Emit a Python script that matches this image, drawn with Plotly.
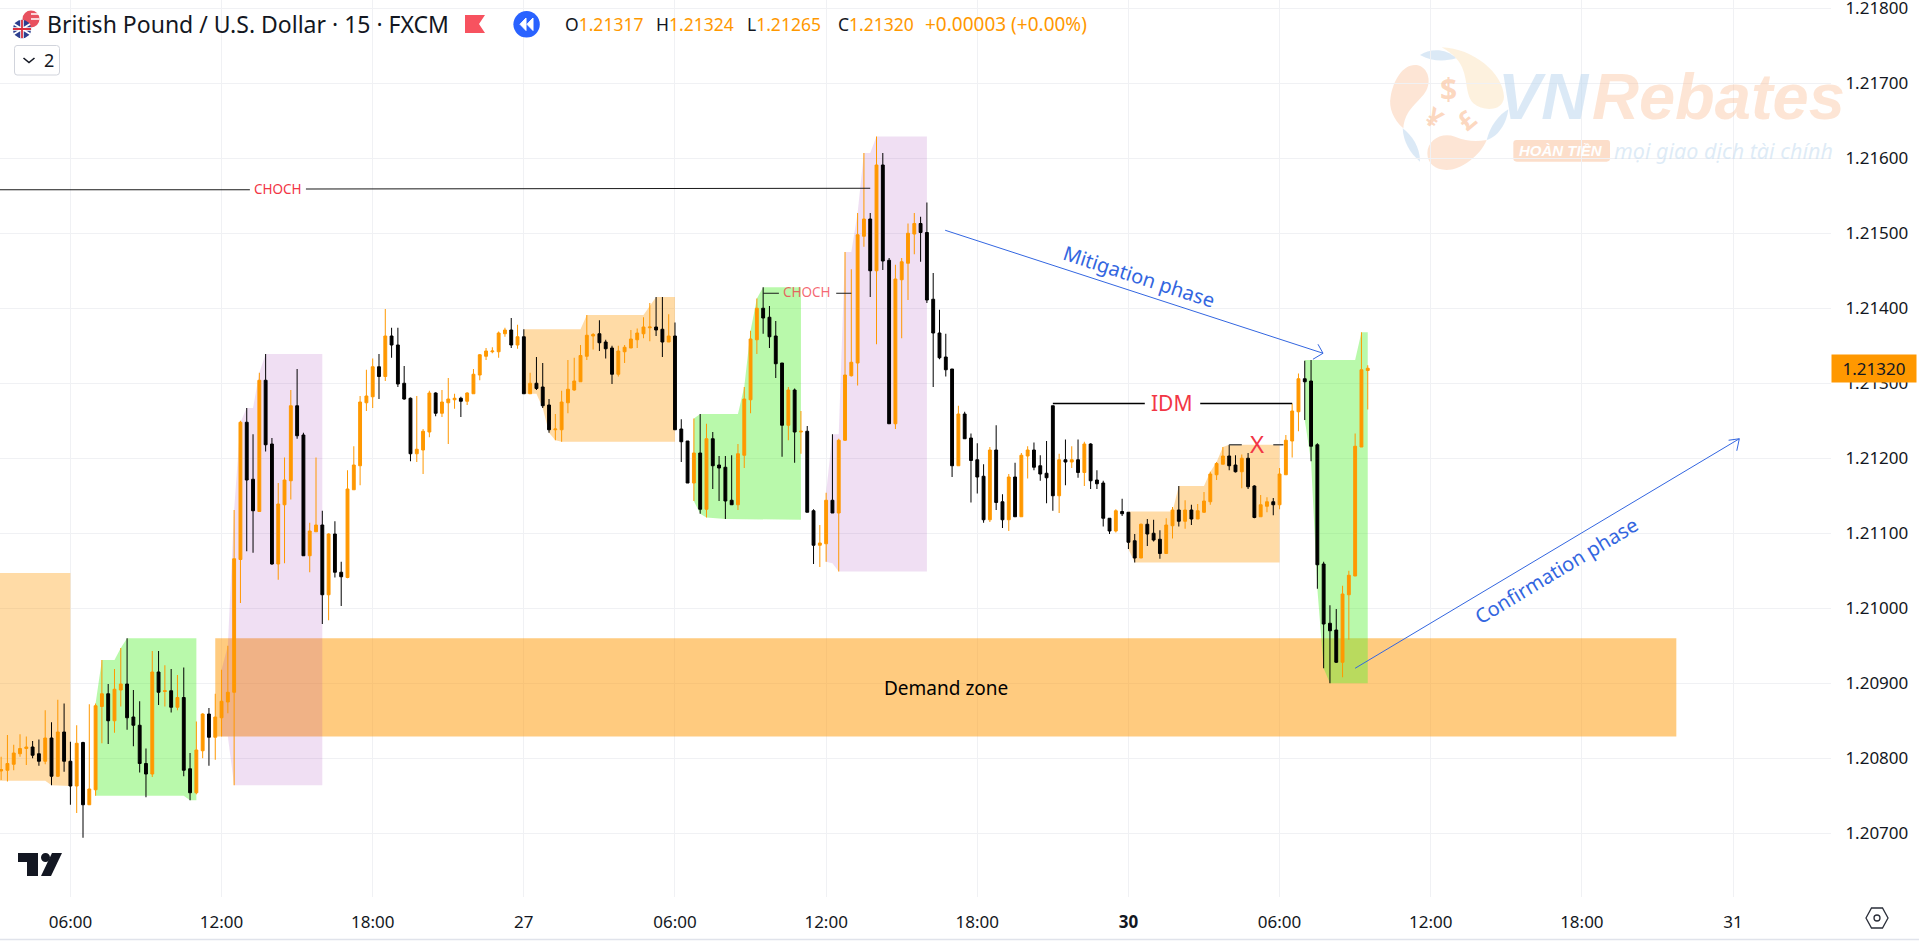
import plotly.graph_objects as go

# GBP/USD 15 min candles, prices in 1/100000
opens = [
    120783, 120784, 120792, 120806, 120813, 120815, 120806, 120796, 120827, 120776,
    120835, 120796, 120763, 120821, 120738, 120758, 120869, 120886, 120850, 120891,
    120899, 120855, 120844, 120793, 120779, 120915, 120889, 120890, 120868, 120881,
    120786, 120754, 120810, 120859, 120828, 120854, 120875, 120888, 121065, 121248,
    121172, 121129, 121304, 121219, 121059, 121138, 121170, 121270, 121231, 121070,
    121102, 121111, 121018, 121099, 121048, 121041, 121158, 121190, 121274, 121282,
    121322, 121309, 121363, 121351, 121300, 121280, 121206, 121211, 121235, 121287,
    121260, 121274, 121278, 121280, 121276, 121286, 121311, 121336, 121342, 121342,
    121366, 121371, 121351, 121362, 121286, 121300, 121295, 121271, 121238, 121238,
    121274, 121291, 121302, 121336, 121363, 121366, 121355, 121347, 121312, 121342,
    121347, 121358, 121366, 121374, 121375, 121372, 121355, 121363, 121239, 121223,
    121167, 121207, 121132, 121226, 121191, 121188, 121144, 121138, 121204, 121278,
    121358, 121400, 121388, 121363, 121327, 121244, 121291, 121235, 121236, 121130,
    121084, 121086, 121144, 121127, 121224, 121310, 121327, 121496, 121519, 121450,
    121591, 121464, 121246, 121438, 121460, 121499, 121513, 121501, 121412, 121367,
    121335, 121319, 121190, 121259, 121227, 121198, 121176, 121118, 121211, 121142,
    121118, 121175, 121122, 121203, 121211, 121190, 121180, 121270, 121150, 121198,
    121195, 121198, 121181, 121219, 121171, 121167, 121120, 121103, 121129, 121128,
    121090, 121067, 121112, 121100, 121092, 121073, 121110, 121131, 121116, 121131,
    121119, 121128, 121142, 121178, 121192, 121203, 121191, 121182, 121200, 121163,
    121122, 121136, 121142, 121138, 121178, 121223, 121262, 121306, 121303, 121218,
    121059, 120980, 120971, 120928, 121018, 121043, 121215, 121317,
]
highs = [
    120802, 120831, 120818, 120832, 120829, 120823, 120825, 120864, 120848, 120878,
    120873, 120822, 120844, 120822, 120872, 120873, 120931, 120899, 120919, 120947,
    120960, 120891, 120876, 120813, 120943, 120943, 120924, 120919, 120911, 120921,
    120807, 120849, 120860, 120867, 120886, 120918, 120950, 121131, 121250, 121267,
    121232, 121314, 121339, 121227, 121167, 121201, 121291, 121319, 121234, 121114,
    121201, 121130, 121100, 121116, 121062, 121184, 121216, 121283, 121318, 121333,
    121339, 121399, 121374, 121374, 121323, 121281, 121283, 121239, 121290, 121288,
    121291, 121307, 121286, 121282, 121288, 121319, 121339, 121347, 121348, 121369,
    121374, 121387, 121378, 121372, 121314, 121335, 121327, 121279, 121259, 121290,
    121331, 121334, 121351, 121391, 121367, 121384, 121358, 121350, 121350, 121351,
    121371, 121373, 121388, 121407, 121415, 121415, 121392, 121381, 121252, 121223,
    121253, 121259, 121246, 121235, 121203, 121203, 121204, 121219, 121295, 121370,
    121413, 121428, 121403, 121383, 121327, 121295, 121293, 121263, 121243, 121132,
    121111, 121154, 121232, 121226, 121475, 121452, 121527, 121607, 121527, 121629,
    121607, 121467, 121458, 121467, 121513, 121527, 121522, 121541, 121447, 121398,
    121366, 121319, 121270, 121262, 121233, 121220, 121192, 121215, 121244, 121152,
    121179, 121194, 121207, 121216, 121221, 121204, 121223, 121270, 121206, 121225,
    121216, 121225, 121222, 121220, 121184, 121170, 121120, 121132, 121146, 121128,
    121099, 121113, 121119, 121118, 121104, 121120, 121135, 121163, 121144, 121138,
    121139, 121155, 121182, 121195, 121215, 121218, 121204, 121205, 121207, 121164,
    121151, 121148, 121147, 121187, 121231, 121273, 121313, 121330, 121331, 121220,
    121062, 121004, 120999, 121030, 121050, 121233, 121368, 121324,
]
lows = [
    120771, 120769, 120784, 120802, 120791, 120800, 120790, 120792, 120764, 120775,
    120782, 120738, 120727, 120694, 120738, 120750, 120820, 120819, 120834, 120869,
    120838, 120816, 120781, 120748, 120775, 120871, 120869, 120861, 120864, 120776,
    120744, 120752, 120800, 120790, 120798, 120829, 120860, 120764, 121007, 121076,
    121074, 121129, 121209, 121058, 121038, 121060, 121145, 121226, 121070, 121048,
    121102, 120979, 120984, 121041, 121003, 121040, 121158, 121164, 121263, 121267,
    121279, 121303, 121334, 121295, 121278, 121196, 121195, 121179, 121228, 121256,
    121255, 121219, 121266, 121255, 121271, 121286, 121304, 121331, 121340, 121334,
    121362, 121347, 121346, 121286, 121286, 121291, 121267, 121234, 121224, 121222,
    121260, 121290, 121302, 121331, 121345, 121343, 121333, 121299, 121309, 121327,
    121347, 121347, 121360, 121356, 121363, 121335, 121355, 121238, 121195, 121167,
    121143, 121126, 121121, 121159, 121143, 121119, 121138, 121131, 121187, 121260,
    121339, 121366, 121347, 121307, 121202, 121224, 121194, 121206, 121128, 121059,
    121055, 121062, 121127, 121049, 121223, 121309, 121297, 121482, 121415, 121352,
    121451, 121246, 121239, 121360, 121411, 121472, 121462, 121407, 121295, 121332,
    121309, 121175, 121190, 121226, 121141, 121153, 121114, 121115, 121131, 121107,
    121103, 121122, 121122, 121173, 121184, 121170, 121140, 121130, 121127, 121164,
    121187, 121174, 121163, 121159, 121159, 121109, 121099, 121101, 121123, 121079,
    121061, 121067, 121083, 121089, 121066, 121073, 121093, 121109, 121106, 121111,
    121119, 121127, 121138, 121171, 121192, 121184, 121181, 121160, 121159, 121120,
    121122, 121128, 121124, 121132, 121178, 121201, 121236, 121251, 121196, 121026,
    120920, 120900, 120927, 120908, 120958, 121043, 121215, 121265,
]
closes = [
    120785, 120793, 120807, 120813, 120815, 120804, 120796, 120827, 120776, 120835,
    120796, 120763, 120820, 120738, 120759, 120870, 120886, 120850, 120892, 120899,
    120854, 120844, 120793, 120779, 120915, 120888, 120890, 120868, 120881, 120784,
    120754, 120811, 120859, 120828, 120855, 120876, 120888, 121066, 121248, 121171,
    121130, 121304, 121218, 121059, 121139, 121171, 121270, 121230, 121070, 121103,
    121111, 121018, 121099, 121048, 121042, 121159, 121191, 121275, 121283, 121322,
    121309, 121363, 121351, 121299, 121279, 121206, 121212, 121236, 121287, 121260,
    121275, 121279, 121280, 121276, 121287, 121312, 121338, 121343, 121343, 121367,
    121371, 121351, 121362, 121286, 121300, 121293, 121270, 121238, 121239, 121275,
    121292, 121303, 121337, 121364, 121365, 121354, 121346, 121312, 121343, 121348,
    121359, 121367, 121375, 121375, 121371, 121355, 121363, 121238, 121222, 121167,
    121207, 121132, 121226, 121190, 121187, 121143, 121138, 121206, 121279, 121359,
    121400, 121387, 121362, 121326, 121244, 121291, 121235, 121236, 121128, 121084,
    121087, 121144, 121127, 121224, 121311, 121328, 121498, 121519, 121450, 121591,
    121463, 121246, 121439, 121462, 121500, 121513, 121501, 121411, 121367, 121334,
    121318, 121190, 121259, 121226, 121197, 121175, 121118, 121211, 121141, 121118,
    121175, 121122, 121204, 121211, 121188, 121179, 121174, 121150, 121198, 121195,
    121198, 121181, 121219, 121170, 121166, 121120, 121103, 121130, 121126, 121088,
    121067, 121112, 121099, 121091, 121073, 121111, 121131, 121116, 121131, 121119,
    121130, 121143, 121179, 121193, 121203, 121190, 121182, 121200, 121162, 121121,
    121138, 121142, 121138, 121179, 121224, 121263, 121306, 121302, 121216, 121058,
    120979, 120970, 120928, 121019, 121044, 121216, 121318, 121320,
]

# x axis labels sit on every 24th bar
tick_bars = [11, 35, 59, 83, 107, 131, 155, 179, 203, 227, 251, 275]
tick_names = ["06:00", "12:00", "18:00", "27", "06:00", "12:00", "18:00", "<b>30</b>",
              "06:00", "12:00", "18:00", "31"]
price_ticks = [120700, 120800, 120900, 121000, 121100, 121200, 121300, 121400, 121500, 121600, 121700, 121800]
last_price = "1.21320"

# shaded ranges: outline as bar index / price
demand_x = [34, 266, 266, 34]
demand_y = [120960, 120960, 120829, 120829]
peach_zones = [
    ([-2, 11, 11, 8, 7, -2],
     [121047, 121047, 120763, 120764, 120770, 120770]),
    ([83, 92, 93, 102, 104, 107, 107, 89, 88, 87, 86, 85, 83],
     [121372, 121372, 121391, 121391, 121415, 121415, 121222, 121222, 121224, 121234, 121267, 121286, 121286]),
    ([179, 186, 187, 191, 192, 193, 194, 195, 203, 203, 180, 179],
     [121129, 121129, 121163, 121163, 121182, 121195, 121215, 121218, 121218, 121061, 121061, 121079]),
]
green_zones = [
    ([15, 16, 18, 19, 20, 31, 31, 30, 29, 15],
     [120873, 120931, 120931, 120947, 120960, 120960, 120744, 120744, 120750, 120750]),
    ([110, 111, 117, 118, 119, 120, 121, 127, 127, 115, 112, 111, 110],
     [121253, 121259, 121259, 121295, 121370, 121413, 121428, 121428, 121118, 121119, 121121, 121126, 121143]),
    ([207, 215, 216, 217, 217, 211, 210, 209, 208, 207],
     [121331, 121331, 121368, 121368, 120900, 120900, 120920, 121026, 121196, 121251]),
]
purple_zones = [
    ([35, 36, 37, 38, 39, 40, 41, 42, 51, 51, 37, 36, 35],
     [120918, 120950, 121131, 121248, 121267, 121267, 121314, 121339, 121339, 120764, 120764, 120829, 120829]),
    ([131, 132, 133, 134, 135, 136, 137, 138, 139, 147, 147, 133, 132, 131],
     [121154, 121232, 121232, 121475, 121475, 121527, 121607, 121607, 121629, 121629, 121049, 121049, 121060, 121062]),
]

# drawn lines on the chart
choch_top_x = [-2, 39.5, None, 48.4, 138]
choch_top_y = [121558, 121558, None, 121559, 121560]
choch_mid_x = [121, 123.5, None, 132.6, 135]
choch_mid_y = [121420, 121420, None, 121420, 121420]
idm_x = [167, 181.6, None, 190.4, 205]
idm_y = [121273, 121273, None, 121273, 121273]
x_line_x = [195, 197, None, 202, 203.6]
x_line_y = [121218, 121218, None, 121218, 121218]
mitigation_x = [149.9, 209.9, None, 209.1, 209.9, 208.3]
mitigation_y = [121504, 121340, None, 121352, 121340, 121332]
confirm_x = [215, 276, None, 274.3, 276, 275.6]
confirm_y = [120920, 121226, None, 121224, 121226, 121210]

ohlc_labels = ["O", "H", "L", "C", ""]
ohlc_values = ["1.21317", "1.21324", "1.21265", "1.21320", "+0.00003 (+0.00%)"]
ohlc_left = [564, 655, 746, 837, 924]
ohlc_sizes = [17.5, 17.5, 17.5, 17.5, 19]

ORANGE = "#FF9800"
DARK = "#131722"
BLUE = "#3366E0"
RED = "#F23645"
FONT = "Noto Sans"
PLOT_W = 1831
PLOT_H = 897


def px(x):
    return x / PLOT_W


def py(y):
    return 1 - y / PLOT_H


def paper_path(path):
    # pixel path -> paper path, numbers come in x y pairs
    out = []
    is_x = True
    for tok in path.split():
        if tok.isalpha():
            out.append(tok)
        else:
            out.append(str(px(float(tok))) if is_x else str(py(float(tok))))
            is_x = not is_x
    return " ".join(out)


def wm_path(path):
    # watermark outlines were traced on a 3x crop starting at (1370, 40)
    out = []
    is_x = True
    for tok in path.split():
        if tok.isalpha():
            out.append(tok)
        else:
            out.append(str(1370 + float(tok) / 3 if is_x else 40 + float(tok) / 3))
            is_x = not is_x
    return " ".join(out)


def zone_shape(xs, ys, color):
    pts = [f"{x},{y / 100000}" for x, y in zip(xs, ys)]
    return dict(type="path", path="M " + " L ".join(pts) + " Z", xref="x", yref="y",
                fillcolor=color, line=dict(width=0), layer="between")


def deco(path, fill="rgba(0,0,0,0)", line_color=None, width=0, layer="above"):
    return dict(type="path", path=paper_path(path), xref="paper", yref="paper", fillcolor=fill,
                line=dict(width=width, color=line_color or "rgba(0,0,0,0)"), layer=layer)


def circle(cx, cy, r, fill, line_color=None, width=0):
    return dict(type="circle", xref="paper", yref="paper", x0=px(cx - r), x1=px(cx + r),
                y0=py(cy + r), y1=py(cy - r), fillcolor=fill,
                line=dict(width=width, color=line_color or "rgba(0,0,0,0)"))


def note(x, y, text, size=14, color=DARK, anchor="left", angle=0, family=FONT, paper=True):
    return dict(x=px(x) if paper else x, y=py(y) if paper else y, xref="paper" if paper else "x",
                yref="paper" if paper else "y", text=text, showarrow=False, xanchor=anchor, yanchor="middle",
                textangle=angle, font=dict(size=size, color=color, family=family), borderpad=0)


def line_trace(xs, ys, color, width=1):
    return go.Scatter(x=xs, y=[None if v is None else v / 100000 for v in ys], mode="lines",
                      line=dict(color=color, width=width), hoverinfo="skip", showlegend=False)


fig = go.Figure()
fig.add_trace(
    go.Candlestick(
        x=list(range(len(opens))),
        open=[v / 100000 for v in opens],
        high=[v / 100000 for v in highs],
        low=[v / 100000 for v in lows],
        close=[v / 100000 for v in closes],
        increasing=dict(line=dict(color=ORANGE, width=1), fillcolor=ORANGE),
        decreasing=dict(line=dict(color="#000000", width=1), fillcolor="#000000"),
        whiskerwidth=0,
        hoverinfo="skip",
        showlegend=False,
    )
)
fig.add_trace(line_trace(choch_top_x, choch_top_y, "#1a1a1a"))
fig.add_trace(line_trace(choch_mid_x, choch_mid_y, "#1a1a1a"))
fig.add_trace(line_trace(idm_x, idm_y, "#000000", 1.5))
fig.add_trace(line_trace(x_line_x, x_line_y, "#555555", 1.5))
fig.add_trace(line_trace(mitigation_x, mitigation_y, BLUE))
fig.add_trace(line_trace(confirm_x, confirm_y, BLUE))

# zones
shapes = [zone_shape(demand_x, demand_y, "rgba(255,152,0,0.5)")]
for xs, ys in peach_zones:
    shapes.append(zone_shape(xs, ys, "rgba(255,152,0,0.35)"))
for xs, ys in green_zones:
    shapes.append(zone_shape(xs, ys, "rgba(80,240,45,0.4)"))
for xs, ys in purple_zones:
    shapes.append(zone_shape(xs, ys, "rgba(156,39,176,0.15)"))

# watermark logo
WM_BLUE = "rgba(190,215,238,0.55)"
WM_PEACH = "rgba(250,190,150,0.4)"
WM_YELLOW = "rgba(250,215,160,0.35)"
for p, c in [
    ("M 140 75 C 175 80 190 130 160 165 C 130 200 105 215 100 265 C 70 240 55 200 62 170 C 70 120 100 70 140 75 Z", WM_PEACH),
    ("M 150 45 C 180 25 230 25 258 55 C 225 65 185 65 150 45 Z", WM_BLUE),
    ("M 215 22 C 310 25 400 100 402 170 C 400 215 340 215 310 190 C 280 160 300 100 258 55 C 245 40 230 30 215 22 Z", WM_YELLOW),
    ("M 415 208 C 410 250 385 290 350 300 C 360 260 385 225 415 208 Z", WM_BLUE),
    ("M 172 340 C 172 300 215 275 255 290 C 290 305 320 305 350 300 C 330 350 270 390 230 390 C 195 390 172 370 172 340 Z", WM_PEACH),
    ("M 98 265 C 125 285 150 320 150 365 C 120 340 100 305 98 265 Z", WM_BLUE),
    ("M 440 300 L 712 300 Q 720 300 720 310 L 720 355 Q 720 365 710 365 L 440 365 Q 430 365 430 355 L 430 310 Q 430 300 440 300 Z", "rgba(250,190,150,0.5)"),
]:
    shapes.append(deco(wm_path(p), fill=c, layer="between"))

# header icons
shapes += [
    circle(31, 19, 8.5, "#E8515F"),
    deco("M 23 19 A 8.5 8.5 0 0 1 31 10.5 L 31 19 Z", fill="#4A6CB5"),
    deco("M 31 14 L 39.5 14 M 31 19 L 39.5 19", line_color="#FFFFFF", width=1.5),
    circle(22, 29, 9.2, "#2D3F8F"),
    deco("M 14 24 L 30 34 M 14 34 L 30 24", line_color="#FFFFFF", width=2),
    deco("M 22 20 L 22 38 M 13 29 L 31 29", line_color="#FFFFFF", width=3.5),
    deco("M 22 20 L 22 38 M 13 29 L 31 29", line_color="#D9303E", width=1.8),
    deco("M 465 15 L 485 15 L 479 24 L 485 33 L 465 33 Z", fill="#F7525F"),
    circle(526.6, 24.3, 13.2, "#2962FF"),
    deco("M 526 18 L 520 24.3 L 526 30.5 Z M 533 18 L 527 24.3 L 533 30.5 Z", fill="#FFFFFF", line_color="#FFFFFF", width=1),
    deco("M 17 45.5 L 56.5 45.5 Q 59.5 45.5 59.5 48.5 L 59.5 72 Q 59.5 75 56.5 75 L 17 75 Q 14.5 75 14.5 72 L 14.5 48.5 Q 14.5 45.5 17 45.5 Z",
         fill="#FFFFFF", line_color="#D1D4DC", width=1),
    deco("M 23.5 58 L 29 62.5 L 34.5 58", line_color=DARK, width=1.6),
    # TradingView mark
    deco("M 18 853 L 38 853 L 38 876 L 27 876 L 27 862 L 18 862 Z", fill=DARK),
    circle(45.5, 857.5, 4.5, DARK),
    deco("M 52 853 L 62 853 L 51 876 L 41 876 Z", fill=DARK),
    # settings button
    deco("M 1866 918 L 1871.5 908 L 1882.5 908 L 1888 918 L 1882.5 928 L 1871.5 928 Z", line_color="#2A2E39", width=1.3),
    circle(1877, 918, 3, "rgba(0,0,0,0)", "#2A2E39", 1.3),
    # window edge at the bottom
    dict(type="line", xref="paper", yref="paper", x0=0, x1=px(1919), y0=py(939.5), y1=py(939.5),
         line=dict(color="#E0E3EB", width=1.5)),
]

annotations = [
    note(46, 24, "British Pound / U.S. Dollar · 15 · FXCM", size=23),
    note(43, 60.5, "2", size=18),
    # chart labels
    note(44, 121559 / 100000, "CHOCH", size=13.5, color=RED, anchor="center", paper=False),
    note(128, 121422 / 100000, "CHOCH", size=13.5, color="rgba(242,54,69,0.75)", anchor="center", paper=False),
    note(185.9, 121274 / 100000, "IDM", size=21, color=RED, anchor="center", paper=False),
    note(199.4, 121220 / 100000, "X", size=24, color=RED, anchor="center", paper=False),
    note(150, 120894 / 100000, "Demand zone", size=19, color="#000000", anchor="center", paper=False),
    note(180.7, 121442 / 100000, "Mitigation phase", size=20, color=BLUE, anchor="center", angle=18, paper=False),
    note(246.9, 121051 / 100000, "Confirmation phase", size=20, color=BLUE, anchor="center", angle=-31, paper=False),
    # watermark text
    note(1591, 96, "<b><i>VN</i></b>", size=65, color="rgba(190,215,238,0.55)", anchor="right", family="Liberation Sans"),
    note(1591, 96, "<b><i>Rebates</i></b>", size=65, color="rgba(250,190,150,0.4)", family="Liberation Sans"),
    note(1518, 151, "<b><i>HOÀN TIỀN</i></b>", size=15, color="#FFFFFF", family="Liberation Sans"),
    note(1613, 150, "<i>mọi giao dịch tài chính</i>", size=21.5, color="rgba(190,215,238,0.5)"),
    # currency signs in the logo
    note(1448, 88, "<b>$</b>", size=30, color="rgba(250,190,150,0.6)", anchor="center"),
    note(1434, 117, "<b>¥</b>", size=26, color="rgba(250,190,150,0.6)", anchor="center", angle=35),
    note(1466, 120, "<b>£</b>", size=26, color="rgba(250,190,150,0.6)", anchor="center", angle=-40),
]
for name, value, left, fsize in zip(ohlc_labels, ohlc_values, ohlc_left, ohlc_sizes):
    annotations.append(note(left, 24, f"{name}<span style='color:{ORANGE}'>{value}</span>", size=fsize))
annotations.append(
    dict(x=px(1831), y=py(368.3), xref="paper", yref="paper", text=last_price, showarrow=False,
         xanchor="left", yanchor="middle", width=84, height=27, bgcolor=ORANGE, align="center",
         font=dict(size=17, color=DARK, family=FONT), borderpad=0)
)

fig.update_layout(
    width=1919,
    height=941,
    margin=dict(l=0, r=88, t=0, b=44, autoexpand=False),
    paper_bgcolor="#FFFFFF",
    plot_bgcolor="#FFFFFF",
    font=dict(family=FONT, size=17, color=DARK),
    showlegend=False,
    boxgap=0.35,
    shapes=shapes,
    annotations=annotations,
    hovermode=False,
)
fig.update_xaxes(
    range=[-0.179, 290.56],
    rangeslider_visible=False,
    tickmode="array",
    tickvals=tick_bars,
    ticktext=tick_names,
    showgrid=True,
    gridcolor="#F0F1F4",
    gridwidth=1,
    zeroline=False,
    ticks="outside",
    ticklen=10,
    tickcolor="rgba(0,0,0,0)",
    tickfont=dict(size=17, color=DARK),
    automargin=False,
)
fig.update_yaxes(
    range=[1.20615, 1.21811],
    side="right",
    tickmode="array",
    tickvals=[v / 100000 for v in price_ticks],
    ticktext=[f"{v / 100000:.5f}" for v in price_ticks],
    showgrid=True,
    gridcolor="#F0F1F4",
    gridwidth=1,
    zeroline=False,
    ticks="outside",
    ticklen=10,
    tickcolor="rgba(0,0,0,0)",
    tickfont=dict(size=17, color=DARK),
    ticklabeloverflow="allow",
    automargin=False,
)

fig.write_html(
    "out.html",
    config=dict(displayModeBar=False),
    post_script="document.body.style.margin='0';document.body.style.overflow='hidden';",
)
